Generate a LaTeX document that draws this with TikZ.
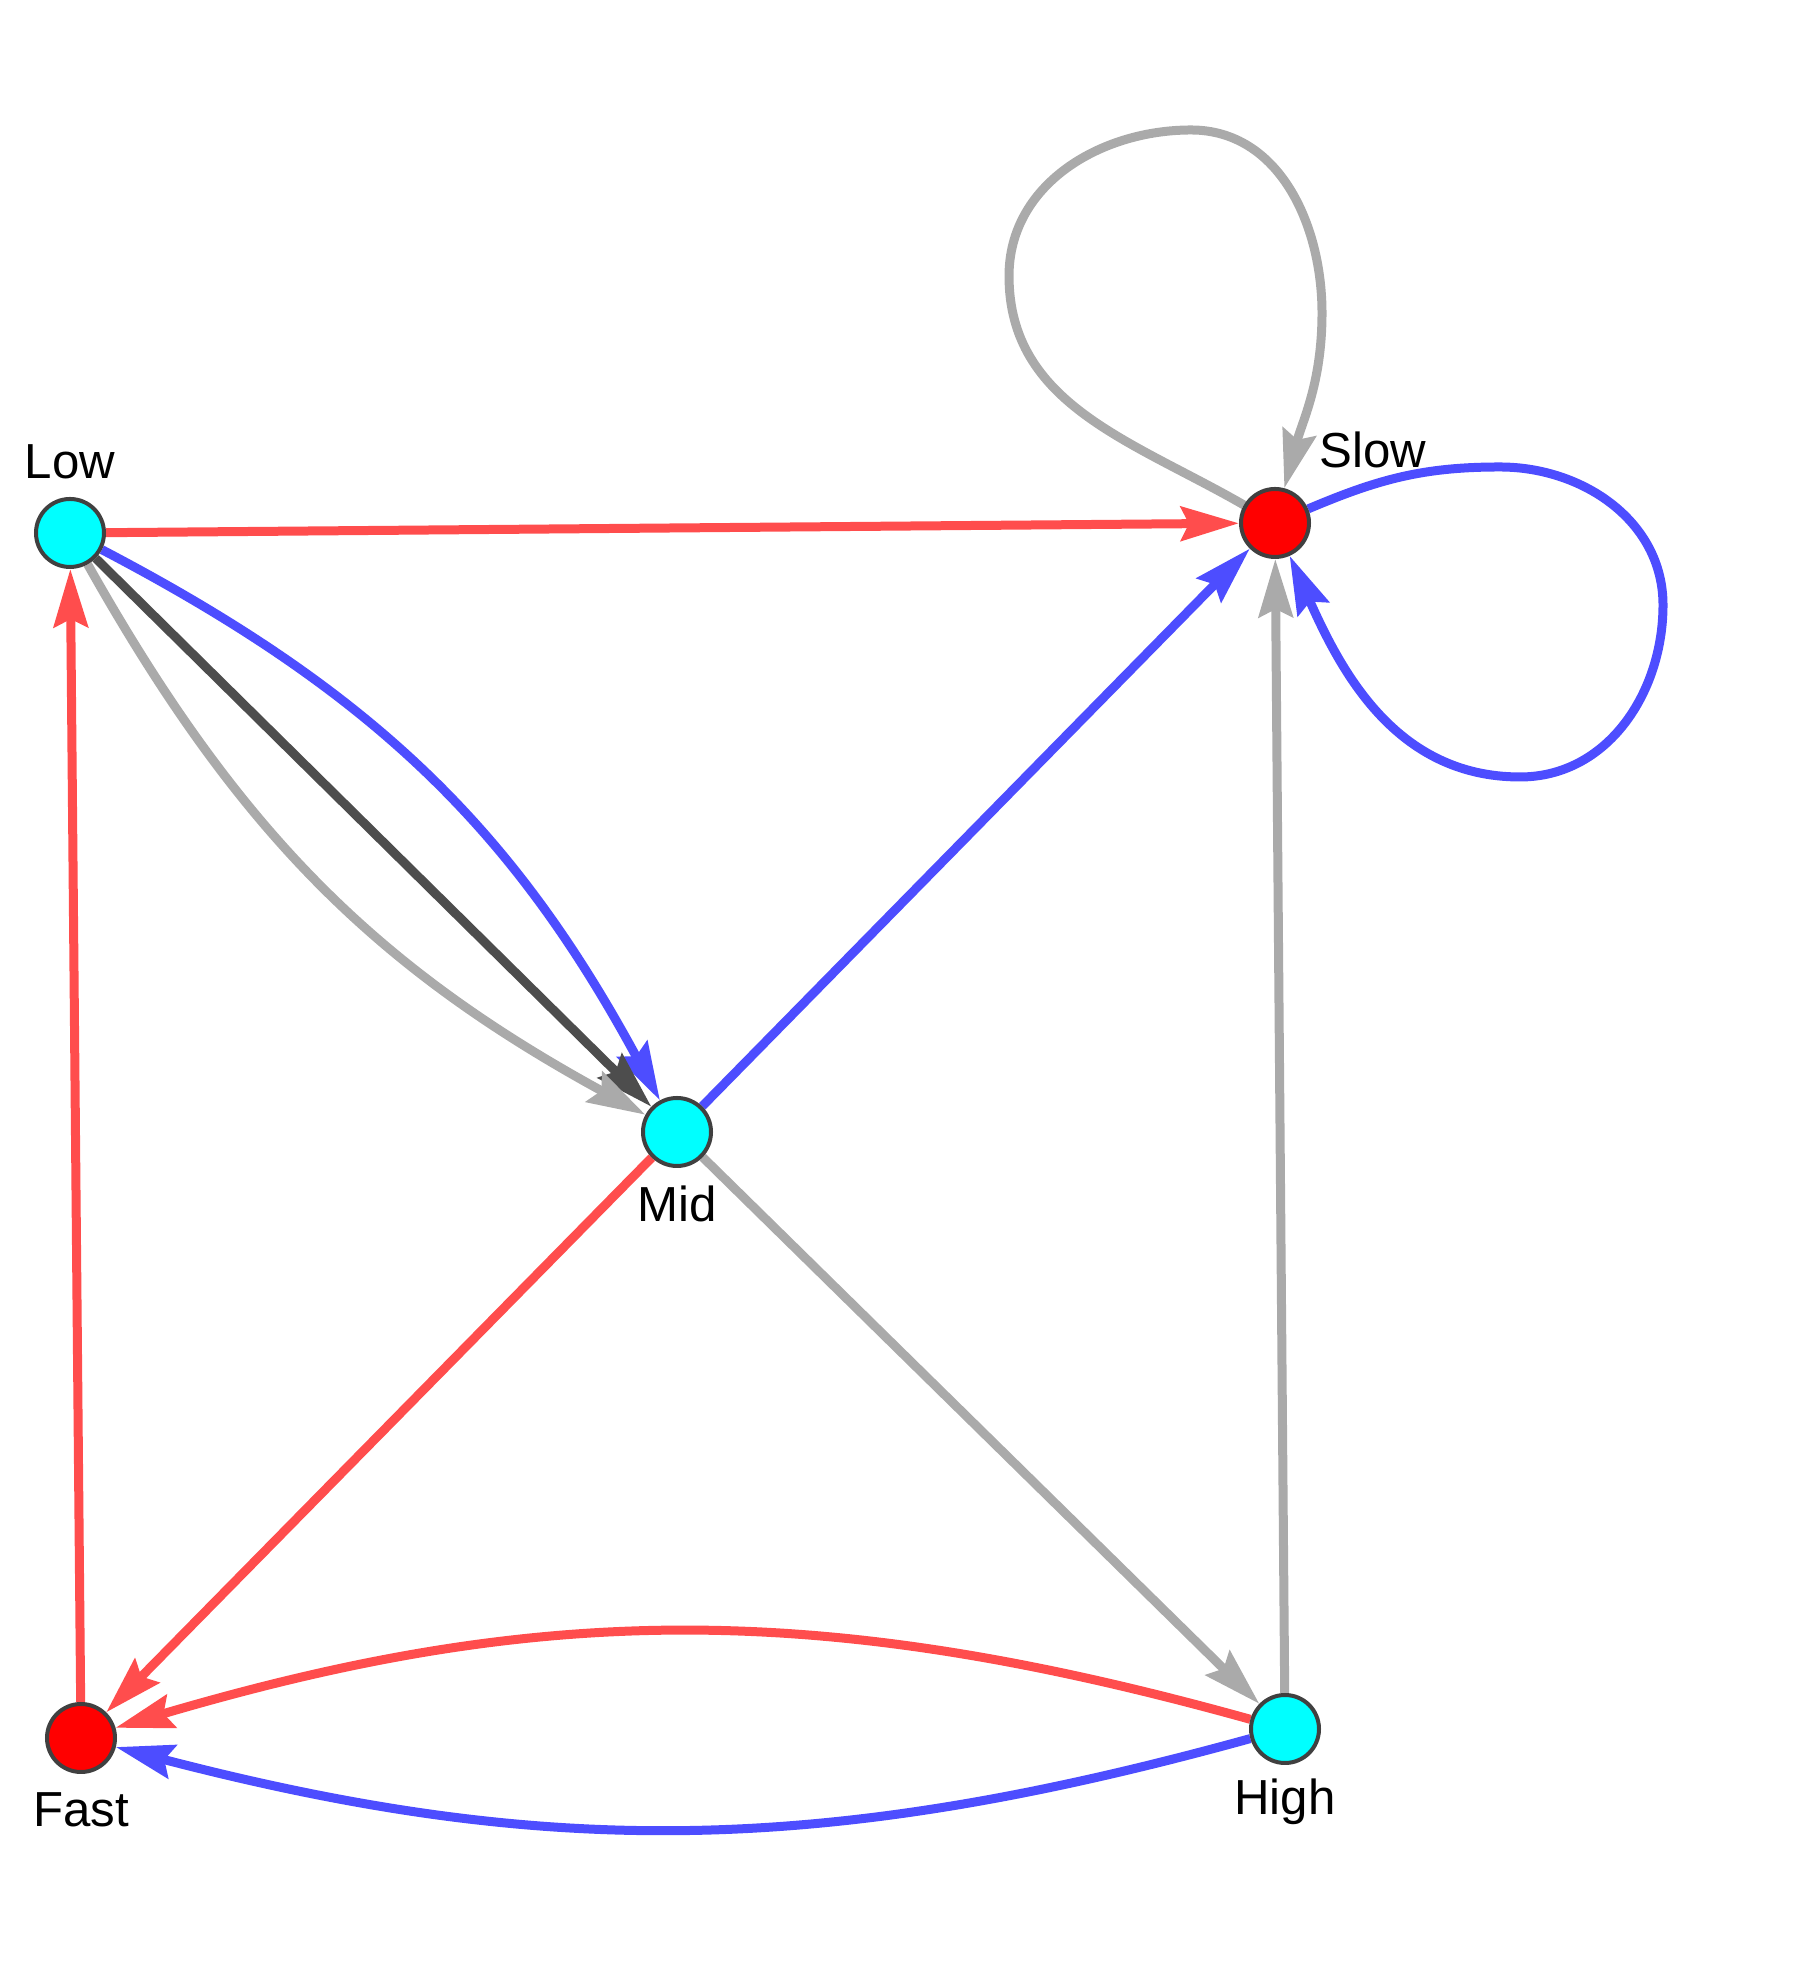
\documentclass[tikz,border=0pt]{standalone}
\usepackage{fontspec}
\setmainfont{Liberation Sans}
\usepackage{tikz}
\usetikzlibrary{arrows.meta}
\usetikzlibrary{calc}
\usetikzlibrary{backgrounds}
\definecolor{edgered}{RGB}{255,77,77}
\definecolor{edgeblue}{RGB}{77,77,255}
\definecolor{edgegray}{RGB}{170,170,170}
\definecolor{edgedark}{RGB}{77,77,77}
\definecolor{nodecyan}{RGB}{0,255,255}
\definecolor{nodered}{RGB}{255,0,0}
\definecolor{nodeborder}{RGB}{64,64,64}

\begin{document}
\begin{tikzpicture}[
    >={Stealth[length=5.8mm,width=3.4mm,inset=0.8mm]},
    edge/.style={->, line width=0.9mm},
    red edge/.style={edge, color=edgered},
    blue edge/.style={edge, color=edgeblue},
    gray edge/.style={edge, color=edgegray},
    dark edge/.style={edge, color=edgedark},
    state/.style={circle, draw=nodeborder, line width=0.4mm, minimum size=0.68cm, inner sep=0pt},
    cyan state/.style={state, fill=nodecyan},
    red state/.style={state, fill=nodered},
    state label/.style={anchor=base, font=\fontsize{14}{16}\selectfont}
    ]
    \useasboundingbox (0,0) rectangle (18.06,19.72);

    % states
    \node[cyan state] (low) at (0.70,14.39) {};
    \node[red state] (slow) at (12.75,14.49) {};
    \node[cyan state] (mid) at (6.77,8.40) {};
    \node[cyan state] (high) at (12.85,2.43) {};
    \node[red state] (fast) at (0.81,2.34) {};
    % state names
    \node[state label] (lowtxt) at ($(low)+(0,0.54)$) {Low};
    \node[state label] (slowtxt) at ($(slow)+(0.98,0.55)$) {Slow};
    \node[state label] (midtxt) at ($(mid)+(0,-0.90)$) {Mid};
    \node[state label] (hightxt) at ($(high)+(0,-0.86)$) {High};
    \node[state label] (fasttxt) at ($(fast)+(0,-0.89)$) {Fast};
    % loop waypoints
    \coordinate (grayW) at (10.09,16.96);
    \coordinate (grayN) at (11.91,18.42);
    \coordinate (grayE) at (13.22,16.59);
    \coordinate (blueN) at (15.00,15.05);
    \coordinate (blueE) at (16.63,13.67);
    \coordinate (blueS) at (15.20,11.95);

    \begin{scope}[on background layer]
    % transitions
    \draw[red edge] (low) -- (slow);
    \draw[blue edge] (low) to[bend left=17] (mid);
    \draw[dark edge] (low) -- (mid);
    \draw[gray edge] (low) to[bend right=16] (mid);
    \draw[blue edge] (mid) -- (slow);
    \draw[red edge] (mid) -- (fast);
    \draw[gray edge] (mid) -- (high);
    \draw[gray edge] (high) -- (slow);
    \draw[red edge] (fast) -- (low);
    \draw[red edge] (high) to[bend right=16] (fast);
    \draw[blue edge] (high) to[bend left=15] (fast);
    % self loops
    \draw[gray edge] (slow) to[out=150,in=-90] (grayW) to[out=90,in=180] (grayN)
        to[out=0,in=90] (grayE) to[out=-90,in=75] (slow);
    \draw[blue edge] (slow) to[out=23,in=180] (blueN) to[out=0,in=90] (blueE)
        to[out=-90,in=0] (blueS) to[out=180,in=-66] (slow);
    \end{scope}
\end{tikzpicture}
\end{document}
